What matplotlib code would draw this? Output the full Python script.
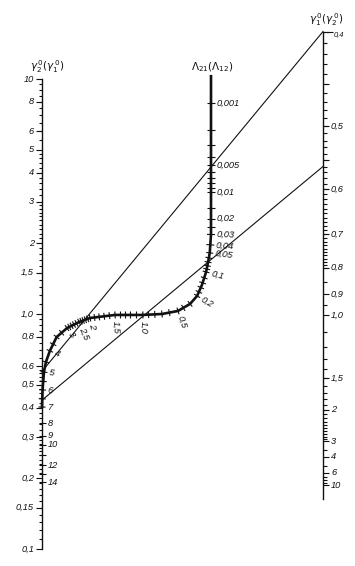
import numpy as np
import matplotlib.pyplot as plt
from matplotlib.collections import LineCollection

# left scale: gamma2^0 (gamma1^0), logarithmic
left_labels = [10, 8, 6, 5, 4, 3, 2, 1.5, 1.0, 0.8, 0.6, 0.5, 0.4, 0.3, 0.2, 0.15, 0.1]
left_minor = (list(np.arange(0.11, 0.2, 0.01)) + list(np.arange(0.21, 0.3, 0.01)) +
              list(np.arange(0.32, 0.6, 0.02)) + list(np.arange(0.65, 1.0, 0.05)) +
              list(np.arange(1.1, 3.0, 0.1)) + list(np.arange(3.2, 5.0, 0.2)) +
              list(np.arange(5.5, 10.0, 0.5)))

# right scale: gamma1^0 (gamma2^0), linear in 1/gamma
right_labels = [0.5, 0.6, 0.7, 0.8, 0.9, 1.0, 1.5, 2, 3, 4, 6, 10]
right_top = 0.4
right_minor = (list(np.arange(0.41, 0.8, 0.01)) + [0.85, 0.95] +
               list(np.arange(1.1, 3.0, 0.1)) + [3.5, 5, 7, 8, 9])

# Lambda21 (Lambda12) scale: straight part on the middle axis
lam_axis_labels = [0.001, 0.005, 0.01, 0.02, 0.03, 0.04, 0.05]
lam_axis_minor = [0.002, 0.003, 0.004, 0.006, 0.007, 0.008, 0.009, 0.015, 0.025]
lam_axis_path = [0.0005, 0.001, 0.01, 0.03]

# curved part: across (0 = left axis, 1 = right axis), height in decades of left scale
lam_curve = [0.05, 0.07, 0.1, 0.15, 0.2, 0.3, 0.5, 0.7, 1.0, 1.5, 2.0, 2.5, 3.0, 3.5,
             4.0, 4.5, 5.0, 6.0, 7, 8, 9, 10, 12, 14]
curve_u = [0.597, 0.591, 0.584, 0.569, 0.552, 0.527, 0.484, 0.427, 0.359, 0.260, 0.171,
           0.132, 0.089, 0.052, 0.028, 0.014, 0.007, 0.002, 0, 0, 0, 0, 0, 0]
curve_v = [0.260, 0.221, 0.179, 0.123, 0.077, 0.043, 0.013, 0.000, -0.004, -0.004, -0.017,
           -0.034, -0.060, -0.098, -0.157, -0.204, -0.247, -0.323, -0.396, -0.464, -0.519,
           -0.557, -0.643, -0.715]
lam_curve_labels = [0.1, 0.2, 0.5, 1.0, 1.5, 2, 2.5, 3, 4, 5, 6, 7, 8, 9, 10, 12, 14]
lam_curve_minor = ([0.06, 0.07, 0.08, 0.09, 0.12, 0.14, 0.16, 0.18, 0.3, 0.4, 0.6, 0.7, 0.8, 0.9] +
                   [1.1, 1.2, 1.3, 1.4, 1.6, 1.7, 1.8, 1.9, 2.1, 2.2, 2.3, 2.4, 2.6, 2.7, 2.8, 2.9] +
                   [3.25, 3.5, 3.75, 4.5, 5.5, 6.5, 11, 13])

# example isopleths: right-scale value -> left-scale value
key_right = [0.4, 0.56]
key_left = [0.57, 0.43]

# drawing geometry (pixels)
X_LEFT, X_MID, X_RIGHT = 42, 211, 323
Y_ONE, DEC = 314, 235


def left_y(g):
    return Y_ONE - DEC * np.log10(np.asarray(g, dtype=float))


def right_y(g):
    return 315 + 189 * (1 - 1 / np.asarray(g, dtype=float))


def mid_y(lam):
    return 192 + 89 * (np.log10(np.asarray(lam, dtype=float)) + 2)


def fmt(v):
    if isinstance(v, float):
        return ('%g' % v if v < 1 or v != int(v) else '%.1f' % v).replace('.', ',')
    return str(v)


fig = plt.figure(figsize=(3.55, 5.66), dpi=100)
ax = fig.add_axes([0, 0, 1, 1])
ax.set_xlim(0, 355)
ax.set_ylim(566, 0)
ax.axis('off')

lab = dict(fontsize=6.7, style='italic', family='Liberation Sans', color='#111111')
ink = '#111111'

# left axis
ax.plot([X_LEFT, X_LEFT], [left_y(10), left_y(0.1)], color=ink, lw=1.0)
segs = [[(X_LEFT - 6, y), (X_LEFT, y)] for y in left_y(left_labels)]
segs += [[(X_LEFT - 3.5, y), (X_LEFT, y)] for y in left_y(left_minor)]
for v in left_labels:
    ax.text(X_LEFT - 8, left_y(v), fmt(v), ha='right', va='center', **lab)
ax.text(X_LEFT + 5, 67, r'$\gamma_2^{\,0}(\gamma_1^{\,0})$', ha='center', va='center',
        fontsize=7.5, color=ink)

# right axis
ax.plot([X_RIGHT, X_RIGHT], [right_y(right_top), right_y(40)], color=ink, lw=1.0)
segs += [[(X_RIGHT, y), (X_RIGHT + 6, y)] for y in right_y(right_labels + [right_top, 0.45, 0.55])]
segs += [[(X_RIGHT, y), (X_RIGHT + 3.5, y)] for y in right_y(right_minor)]
segs.append([(X_RIGHT, right_y(right_top)), (X_RIGHT + 10, right_y(right_top))])
for v in right_labels:
    ax.text(X_RIGHT + 8, right_y(v), fmt(v), ha='left', va='center', **lab)
ax.text(X_RIGHT + 11, right_y(right_top) + 3, fmt(right_top), ha='left', va='center',
        fontsize=5.4, style='italic', family='Liberation Sans', color=ink)
ax.text(X_RIGHT + 3, 20, r'$\gamma_1^{\,0}(\gamma_2^{\,0})$', ha='center', va='center',
        fontsize=7.5, color=ink)

# Lambda scale path
path_lam = np.array(lam_axis_path + lam_curve, dtype=float)
path_x = np.concatenate([np.full(len(lam_axis_path), X_MID),
                         X_LEFT + (X_RIGHT - X_LEFT) * np.array(curve_u)])
path_y = np.concatenate([mid_y(lam_axis_path), Y_ONE - DEC * np.array(curve_v)])
path_s = np.log10(path_lam)


def on_path(lam):
    s = np.log10(lam)
    return np.interp(s, path_s, path_x), np.interp(s, path_s, path_y)


def normal(lam):
    x0, y0 = on_path(lam / 1.03)
    x1, y1 = on_path(lam * 1.03)
    tx, ty = x1 - x0, y1 - y0
    n = np.hypot(tx, ty)
    return ty / n, -tx / n


thick = path_lam <= 7
ax.plot(path_x[thick], path_y[thick], color=ink, lw=1.9, solid_joinstyle='round')
ax.text(X_MID + 1, 67, r'$\Lambda_{21}(\Lambda_{12})$', ha='center', va='center',
        fontsize=7.5, color=ink)

for v in lam_axis_labels + lam_axis_minor + lam_curve_labels + lam_curve_minor:
    x, y = on_path(v)
    nx, ny = normal(v)
    L = 4 if v < 0.05 else 3.5
    segs.append([(x - nx * L, y - ny * L), (x + nx * L, y + ny * L)])

for v in lam_axis_labels + lam_curve_labels:
    x, y = on_path(v)
    nx, ny = normal(v)
    ang = np.degrees(np.arctan2(-ny, nx))
    d = 5.5
    ax.text(x + nx * d, y + ny * d, fmt(v), ha='left', va='center', rotation=ang,
            rotation_mode='anchor', **lab)

ax.add_collection(LineCollection(segs, colors=ink, linewidths=0.8))

# isopleths
for r, l in zip(key_right, key_left):
    ax.plot([X_RIGHT, X_LEFT], [right_y(r), left_y(l)], color=ink, lw=0.8)

fig.savefig('out.png', dpi=100, facecolor='white')
